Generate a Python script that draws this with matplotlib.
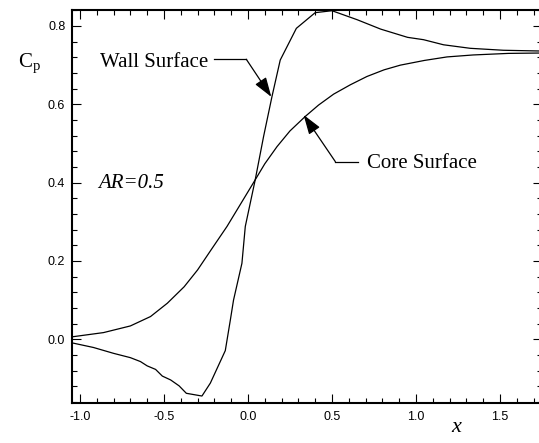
import matplotlib
matplotlib.use("Agg")
import matplotlib.pyplot as plt
from matplotlib.ticker import MultipleLocator, FormatStrFormatter

# Pressure coefficient along the core and the wall surface, AR=0.5
x_core = [-1.05, -0.86, -0.70, -0.58, -0.48, -0.38, -0.30, -0.22, -0.125, -0.036,
          0.033, 0.10, 0.173, 0.25, 0.341, 0.42, 0.51, 0.61, 0.708, 0.81,
          0.907, 1.05, 1.185, 1.34, 1.55, 1.75]
cp_core = [0.006, 0.017, 0.034, 0.058, 0.092, 0.134, 0.177, 0.228, 0.288, 0.351,
           0.400, 0.448, 0.492, 0.532, 0.569, 0.598, 0.626, 0.650, 0.671, 0.688,
           0.700, 0.712, 0.721, 0.726, 0.730, 0.731]

x_wall = [-1.05, -0.92, -0.80, -0.70, -0.64, -0.60, -0.55, -0.51, -0.46, -0.41,
          -0.367, -0.274, -0.224, -0.135, -0.105, -0.086, -0.036, -0.016, 0.043,
          0.093, 0.143, 0.192, 0.288, 0.40, 0.50, 0.65, 0.79, 0.95, 1.045,
          1.164, 1.323, 1.52, 1.75]
cp_wall = [-0.009, -0.021, -0.036, -0.047, -0.057, -0.068, -0.077, -0.094, -0.104, -0.119,
           -0.138, -0.145, -0.112, -0.029, 0.049, 0.100, 0.194, 0.288, 0.407,
           0.518, 0.62, 0.713, 0.794, 0.834, 0.839, 0.816, 0.792, 0.771, 0.765,
           0.752, 0.743, 0.738, 0.736]

SERIF = "Liberation Serif"
plt.rcParams["font.family"] = "Liberation Sans"
plt.rcParams["mathtext.fontset"] = "custom"
plt.rcParams["mathtext.rm"] = SERIF
plt.rcParams["mathtext.it"] = SERIF + ":italic"

fig = plt.figure(figsize=(5.39, 4.43), dpi=100)
ax = fig.add_axes([0.1328, 0.0910, 0.8727, 0.8857])

ax.plot(x_core, cp_core, color="black", lw=0.9)
ax.plot(x_wall, cp_wall, color="black", lw=0.9)

ax.set_xlim(-1.05, 1.75)
ax.set_ylim(-0.162, 0.84)

ax.xaxis.set_major_locator(MultipleLocator(0.5))
ax.xaxis.set_minor_locator(MultipleLocator(0.1))
ax.yaxis.set_major_locator(MultipleLocator(0.2))
ax.yaxis.set_minor_locator(MultipleLocator(0.04))
ax.xaxis.set_major_formatter(FormatStrFormatter("%.1f"))
ax.yaxis.set_major_formatter(FormatStrFormatter("%.1f"))

ax.tick_params(which="both", direction="in", top=True, right=True, width=0.8, labelsize=9)
ax.tick_params(which="major", length=6.5)
ax.tick_params(which="minor", length=3.5)
ax.tick_params(axis="y", pad=4.5)
ax.tick_params(axis="x", pad=6)
for s in ax.spines.values():
    s.set_linewidth(1.5)

# annotations
arrow = dict(arrowstyle="-|>,head_length=0.6,head_width=0.2", color="black",
             lw=0.9, mutation_scale=20, shrinkA=0, shrinkB=0)

ax.text(-0.879, 0.706, "Wall Surface", family=SERIF, fontsize=15, va="center", ha="left")
ax.plot([-0.20, -0.01], [0.715, 0.715], color="black", lw=0.9)
ax.annotate("", xy=(0.139, 0.619), xytext=(-0.01, 0.715), arrowprops=arrow)

ax.text(0.708, 0.4495, "Core Surface", family=SERIF, fontsize=15, va="center", ha="left")
ax.plot([0.52, 0.652], [0.4536, 0.4536], color="black", lw=0.9)
ax.annotate("", xy=(0.331, 0.573), xytext=(0.52, 0.4536), arrowprops=arrow)

ax.text(-0.889, 0.399, "AR=0.5", family=SERIF, style="italic", fontsize=15,
        va="center", ha="left")

fig.text(0.0334, 0.858, r"$\mathrm{C}_\mathrm{p}$", fontsize=15, va="center", ha="left")
fig.text(0.847, 0.0368, r"$x$", fontsize=16, va="center", ha="center")

fig.savefig("out.png", dpi=100)
